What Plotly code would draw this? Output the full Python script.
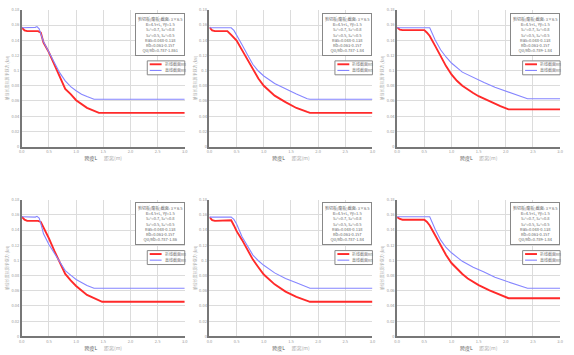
import plotly.graph_objects as go

# ---------------- data ----------------
X_TICKS = [0.0, 0.5, 1.0, 1.5, 2.0, 2.5, 3.0]
Y_TICKS = [0, 0.02, 0.04, 0.06, 0.08, 0.1, 0.12, 0.14, 0.16, 0.18]

RED_NAME = "折线截面Rn"
BLUE_NAME = "直线截面Rn"

P1_RED_X = [0, 0.05, 0.1, 0.2, 0.3, 0.35, 0.4, 0.5, 0.6, 0.7, 0.8, 0.9, 1.0, 1.2, 1.42, 3.0]
P1_RED_Y = [0.157, 0.153, 0.152, 0.152, 0.152, 0.150, 0.137, 0.124, 0.108, 0.093, 0.076, 0.069, 0.061, 0.051, 0.0444, 0.0444]
P1_BLUE_X = [0, 0.1, 0.2, 0.25, 0.28, 0.32, 0.4, 0.5, 0.6, 0.7, 0.8, 0.9, 1.0, 1.1, 1.2, 1.33, 3.0]
P1_BLUE_Y = [0.1565, 0.1565, 0.1565, 0.157, 0.158, 0.155, 0.138, 0.124, 0.109, 0.097, 0.0866, 0.079, 0.0736, 0.069, 0.066, 0.0624, 0.0624]

P2_RED_X = [0, 0.05, 0.1, 0.2, 0.33, 0.4, 0.5, 0.6, 0.7, 0.8, 0.9, 1.0, 1.2, 1.4, 1.6, 1.8, 1.85, 3.0]
P2_RED_Y = [0.157, 0.153, 0.152, 0.152, 0.152, 0.147, 0.1395, 0.127, 0.1146, 0.1016, 0.0896, 0.080, 0.067, 0.0586, 0.0508, 0.0456, 0.0444, 0.0444]
P2_BLUE_X = [0, 0.2, 0.4, 0.45, 0.5, 0.6, 0.7, 0.8, 0.9, 1.0, 1.2, 1.4, 1.6, 1.8, 1.85, 3.0]
P2_BLUE_Y = [0.1565, 0.1565, 0.1565, 0.153, 0.147, 0.134, 0.121, 0.108, 0.0995, 0.093, 0.083, 0.0758, 0.0693, 0.0629, 0.0624, 0.0624]

P3_RED_X = [0, 0.05, 0.1, 0.3, 0.5, 0.55, 0.6, 0.7, 0.8, 0.9, 1.0, 1.1, 1.2, 1.3, 1.4, 1.5, 1.7, 1.9, 2.05, 3.0]
P3_RED_Y = [0.157, 0.154, 0.1533, 0.1533, 0.1533, 0.150, 0.1456, 0.1326, 0.119, 0.106, 0.095, 0.0866, 0.080, 0.0749, 0.0706, 0.0663, 0.0594, 0.0534, 0.049, 0.049]
P3_BLUE_X = [0, 0.3, 0.6, 0.7, 0.8, 0.9, 1.0, 1.2, 1.4, 1.6, 1.8, 2.0, 2.2, 2.4, 3.0]
P3_BLUE_Y = [0.1565, 0.1565, 0.1565, 0.1404, 0.1275, 0.118, 0.110, 0.098, 0.0909, 0.0844, 0.078, 0.0728, 0.068, 0.0629, 0.0629]

P4_RED_X = [0, 0.05, 0.1, 0.3, 0.35, 0.4, 0.5, 0.6, 0.7, 0.8, 0.9, 1.0, 1.2, 1.4, 1.48, 3.0]
P4_RED_Y = [0.1575, 0.1536, 0.152, 0.152, 0.1506, 0.144, 0.129, 0.1125, 0.0978, 0.0822, 0.0736, 0.0662, 0.0545, 0.0476, 0.0454, 0.0454]
P4_BLUE_X = [0, 0.1, 0.25, 0.28, 0.32, 0.36, 0.4, 0.5, 0.6, 0.7, 0.8, 0.9, 1.0, 1.2, 1.33, 3.0]
P4_BLUE_Y = [0.1575, 0.157, 0.157, 0.158, 0.1558, 0.146, 0.135, 0.121, 0.1095, 0.0978, 0.0865, 0.0805, 0.0749, 0.067, 0.0632, 0.0632]

P5_RED_X = [0, 0.05, 0.1, 0.3, 0.4, 0.45, 0.5, 0.6, 0.7, 0.8, 0.9, 1.0, 1.2, 1.4, 1.6, 1.8, 1.85, 3.0]
P5_RED_Y = [0.157, 0.153, 0.152, 0.152, 0.1528, 0.146, 0.1385, 0.127, 0.114, 0.101, 0.091, 0.0813, 0.0684, 0.0588, 0.052, 0.0467, 0.0454, 0.0454]
P5_BLUE_X = [0, 0.2, 0.4, 0.45, 0.5, 0.6, 0.7, 0.8, 0.9, 1.0, 1.2, 1.4, 1.6, 1.8, 1.85, 3.0]
P5_BLUE_Y = [0.157, 0.157, 0.157, 0.154, 0.148, 0.131, 0.1194, 0.107, 0.0995, 0.0935, 0.0835, 0.076, 0.0705, 0.064, 0.0632, 0.0632]

P6_RED_X = [0, 0.05, 0.1, 0.3, 0.5, 0.55, 0.6, 0.7, 0.8, 0.9, 1.0, 1.1, 1.2, 1.3, 1.4, 1.5, 1.7, 1.9, 2.05, 3.0]
P6_RED_Y = [0.157, 0.1545, 0.1535, 0.1535, 0.1535, 0.1506, 0.146, 0.133, 0.119, 0.107, 0.0965, 0.089, 0.082, 0.076, 0.0718, 0.0675, 0.0606, 0.0545, 0.0502, 0.0502]
P6_BLUE_X = [0, 0.3, 0.6, 0.7, 0.8, 0.9, 1.0, 1.2, 1.4, 1.6, 1.8, 2.0, 2.2, 2.4, 3.0]
P6_BLUE_Y = [0.1575, 0.1575, 0.1575, 0.141, 0.127, 0.117, 0.110, 0.0987, 0.0909, 0.0848, 0.0779, 0.0727, 0.0684, 0.0632, 0.0632]

INFO_COMMON = ["剪切板(腹板)截面: 3×6.5", "B=4.5+L, γy=1.5", "S₁ⁿ=0.7, S₂ⁿ=0.8",
               "S₃ⁿ=0.5, S₄ⁿ=0.5", "Ras=0.048-0.138", "Rb=0.063-0.157"]
INFO_LAST = ["Qu/Rb=0.787-1.861", "Qu/Rb=0.787-1.84", "Qu/Rb=0.789-1.84",
             "Qu/Rb=0.787-1.86", "Qu/Rb=0.787-1.84", "Qu/Rb=0.789-1.84"]

X_TITLE = "跨度L"
X_UNIT = "距离(m)"
Y_TITLE = "单位长度抗剪承载力 (kN)"

PANELS = [
    (P1_RED_X, P1_RED_Y, P1_BLUE_X, P1_BLUE_Y),
    (P2_RED_X, P2_RED_Y, P2_BLUE_X, P2_BLUE_Y),
    (P3_RED_X, P3_RED_Y, P3_BLUE_X, P3_BLUE_Y),
    (P4_RED_X, P4_RED_Y, P4_BLUE_X, P4_BLUE_Y),
    (P5_RED_X, P5_RED_Y, P5_BLUE_X, P5_BLUE_Y),
    (P6_RED_X, P6_RED_Y, P6_BLUE_X, P6_BLUE_Y),
]

# ---------------- layout geometry ----------------
W, H = 574, 355
COL_PX = [(19, 184), (209, 374), (399, 564)]
ROW_PX = [(6, 145), (199, 338)]
FONT = "Noto Sans CJK SC, DejaVu Sans, sans-serif"
RED = "#ff2a2a"
BLUE = "#8585ff"

fig = go.Figure()
layout = dict(
    width=W, height=H, margin=dict(l=0, r=0, t=0, b=0),
    paper_bgcolor="white", plot_bgcolor="white", showlegend=False,
    font=dict(family=FONT, size=4, color="#888"),
)
shapes = []
annotations = []

for i, (rx, ry, bx, by) in enumerate(PANELS):
    n = i + 1
    r, c = divmod(i, 3)
    x0, x1 = COL_PX[c]
    y0, y1 = ROW_PX[r]
    sfx = "" if n == 1 else str(n)
    xa, ya = "x" + sfx, "y" + sfx
    fig.add_trace(go.Scatter(x=rx, y=ry, mode="lines", name=RED_NAME,
                             line=dict(color=RED, width=1.9), xaxis=xa, yaxis=ya))
    fig.add_trace(go.Scatter(x=bx, y=by, mode="lines", name=BLUE_NAME,
                             line=dict(color=BLUE, width=1.1), xaxis=xa, yaxis=ya))
    layout["xaxis" + sfx] = dict(
        domain=[x0 / W, x1 / W], anchor=ya, range=[0, 3.0], tickvals=X_TICKS,
        tickformat=".1f", showgrid=True, gridcolor="#dcdcdc", gridwidth=0.8,
        showline=True, linecolor="#777", linewidth=1.5, zeroline=False,
        ticks="", ticklen=0, tickfont=dict(size=4, color="#999"),
        title=dict(text=f"<span style='color:#555'>{X_TITLE}</span>      {X_UNIT}",
                   font=dict(size=5, color="#aaa"), standoff=0),
    )
    layout["yaxis" + sfx] = dict(
        domain=[1 - y1 / H, 1 - y0 / H], anchor=xa, range=[0, 0.18], tickvals=Y_TICKS,
        showgrid=True, gridcolor="#dcdcdc", gridwidth=0.8,
        showline=True, linecolor="#777", linewidth=1.5, zeroline=False,
        ticks="", ticklen=0, tickfont=dict(size=4, color="#999"),
        title=dict(text=Y_TITLE, font=dict(size=4, color="#aaa"), standoff=2),
    )
    # info box
    text = "<br>".join(INFO_COMMON + [INFO_LAST[i]])
    annotations.append(dict(
        xref=xa + " domain", yref=ya + " domain", x=1.0, y=0.98,
        xanchor="right", yanchor="top", text=text, showarrow=False, align="center",
        font=dict(size=4, color="#666"), bordercolor="#888", borderwidth=1,
        borderpad=2, bgcolor="white",
    ))
    # legend box
    shapes.append(dict(type="rect", xref=xa + " domain", yref=ya + " domain",
                       x0=0.77, x1=1.0, y0=0.525, y1=0.627,
                       line=dict(color="#888", width=1), fillcolor="white"))
    for yy, col, wd, nm in [(0.602, RED, 1.9, RED_NAME), (0.557, BLUE, 1.1, BLUE_NAME)]:
        shapes.append(dict(type="line", xref=xa + " domain", yref=ya + " domain",
                           x0=0.785, x1=0.858, y0=yy, y1=yy, line=dict(color=col, width=wd)))
        annotations.append(dict(xref=xa + " domain", yref=ya + " domain", x=0.865, y=yy,
                                xanchor="left", yanchor="middle", text=nm, showarrow=False,
                                font=dict(size=4, color="#777")))

layout["shapes"] = shapes
layout["annotations"] = annotations
fig.update_layout(**layout)
fig.write_html("out.html", config={"displayModeBar": False},
               post_script="document.body.style.margin='0';document.body.style.overflow='hidden';")
